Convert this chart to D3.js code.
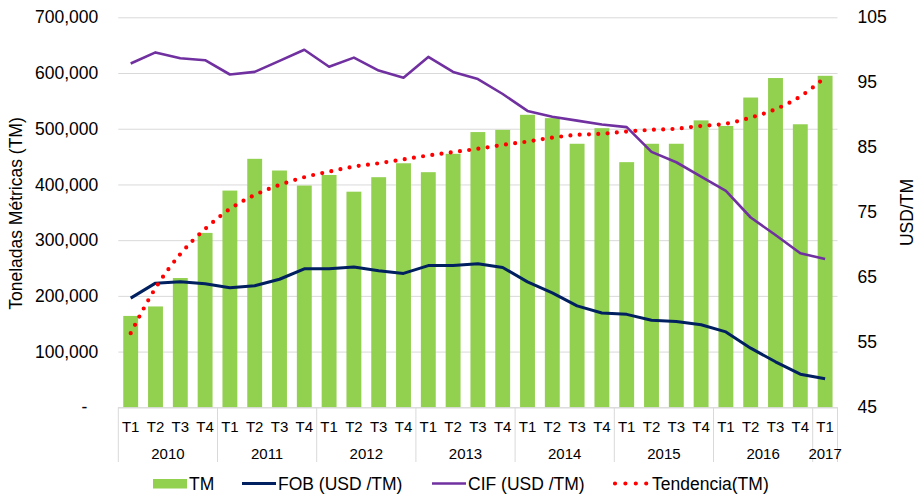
<!DOCTYPE html>
<html>
<head>
<meta charset="utf-8">
<script src="https://cdn.jsdelivr.net/npm/d3@7"></script>
<style>
  body { margin: 0; background: #fff; }
  svg { display: block; font-family: "Liberation Sans", Arial, sans-serif; }
</style>
</head>
<body>
<script>
// categories
const years = ["2010", "2011", "2012", "2013", "2014", "2015", "2016", "2017"];
const quarters = ["T1", "T2", "T3", "T4"];
const categories = years.flatMap(y => (y === "2017" ? ["T1"] : quarters).map(q => y + " " + q));

// series
const tm = [164000, 181000, 232000, 313000, 389000, 446000, 425000, 398000,
            417000, 387000, 413000, 438000, 422000, 455000, 494000, 498000,
            525000, 519000, 473000, 501000, 440000, 473000, 473000, 515000,
            505000, 556000, 591000, 508000, 595000];
const fob = [61.8, 64.1, 64.3, 64.0, 63.4, 63.7, 64.7, 66.3,
             66.3, 66.6, 66.0, 65.6, 66.8, 66.8, 67.1, 66.5,
             64.3, 62.6, 60.6, 59.5, 59.3, 58.4, 58.2, 57.7,
             56.6, 54.1, 52.0, 50.1, 49.4];
const cif = [97.9, 99.6, 98.7, 98.4, 96.2, 96.6, 98.3, 100.0,
             97.4, 98.8, 96.8, 95.7, 98.9, 96.6, 95.5, 93.2,
             90.6, 89.7, 89.1, 88.5, 88.1, 84.3, 82.7, 80.5,
             78.3, 74.2, 71.5, 68.7, 67.8];
const tendencia = [133000, 214000, 275000, 320000, 356000, 381000, 399000, 413000,
                   423000, 432000, 438000, 445000, 452000, 458000, 464000, 471000,
                   477000, 484000, 489000, 491000, 495000, 498000, 500000, 505000,
                   509000, 520000, 535000, 558000, 592000];

// axis ticks
const leftTicks = [0, 100000, 200000, 300000, 400000, 500000, 600000, 700000];
const leftLabels = ["-", "100,000", "200,000", "300,000", "400,000", "500,000", "600,000", "700,000"];
const rightTicks = [45, 55, 65, 75, 85, 95, 105];

const seriesNames = ["TM", "FOB (USD /TM)", "CIF (USD /TM)", "Tendencia(TM)"];
const colors = { tm: "#92d050", fob: "#002060", cif: "#7030a0", trend: "#ff0000" };

const width = 924, height = 498;
const plot = { left: 118.3, right: 837.5, top: 17.3, bottom: 407.3 };

const svg = d3.select("body").append("svg")
    .attr("width", width)
    .attr("height", height);

// scales
const xScale = d3.scaleBand()
    .domain(categories)
    .range([plot.left, plot.right])
    .paddingInner(0.4)
    .paddingOuter(0.2);

const yLeft = d3.scaleLinear().domain([0, 700000]).range([plot.bottom, plot.top]);
const yRight = d3.scaleLinear().domain([45, 105]).range([plot.bottom, plot.top]);

const cx = c => xScale(c) + xScale.bandwidth() / 2;
const slotStart = c => xScale(c) - (xScale.step() - xScale.bandwidth()) / 2;

// left axis + gridlines
const gLeft = svg.append("g")
    .attr("transform", `translate(${plot.left},0)`)
    .call(d3.axisLeft(yLeft)
        .tickValues(leftTicks)
        .tickFormat((d, i) => leftLabels[i])
        .tickSize(-(plot.right - plot.left))
        .tickPadding(20));
gLeft.select(".domain").remove();
gLeft.selectAll(".tick line").attr("stroke", "#d9d9d9").attr("stroke-width", 1);
gLeft.selectAll(".tick text")
    .attr("font-size", "17.5px")
    .attr("fill", "#000")
    .attr("font-family", null)
    .filter(d => d === 0)
    .attr("dx", -11);

// right axis
const gRight = svg.append("g")
    .attr("transform", `translate(${plot.right},0)`)
    .call(d3.axisRight(yRight).tickValues(rightTicks).tickSize(0).tickPadding(20));
gRight.select(".domain").remove();
gRight.selectAll(".tick text")
    .attr("font-size", "17.5px")
    .attr("fill", "#000")
    .attr("font-family", null);

// bars
svg.append("g").selectAll("rect")
    .data(categories)
    .join("rect")
    .attr("x", c => xScale(c))
    .attr("width", xScale.bandwidth())
    .attr("y", (c, i) => yLeft(tm[i]))
    .attr("height", (c, i) => yLeft(0) - yLeft(tm[i]))
    .attr("fill", colors.tm);

// bottom axis (quarters)
const gBottom = svg.append("g")
    .attr("transform", `translate(0,${plot.bottom})`)
    .call(d3.axisBottom(xScale).tickSize(0).tickPadding(14).tickFormat(d => d.split(" ")[1]));
gBottom.select(".domain").attr("stroke", "#d9d9d9").attr("d", `M${plot.left},0.5H${plot.right}`);
gBottom.selectAll(".tick text")
    .attr("font-size", "15px")
    .attr("fill", "#000")
    .attr("font-family", null);

// year dividers and labels
const yearGroups = years.map(y => categories.filter(c => c.startsWith(y)));
const dividers = yearGroups.map(g => slotStart(g[0])).concat([plot.right]);
svg.append("g").selectAll("line")
    .data(dividers)
    .join("line")
    .attr("x1", d => d).attr("x2", d => d)
    .attr("y1", plot.bottom).attr("y2", 462)
    .attr("stroke", "#d9d9d9")
    .attr("stroke-width", 1);

svg.append("g").selectAll("text")
    .data(yearGroups)
    .join("text")
    .attr("x", g => (cx(g[0]) + cx(g[g.length - 1])) / 2)
    .attr("y", 459)
    .attr("text-anchor", "middle")
    .attr("font-size", "15px")
    .text((g, i) => years[i]);

// lines
const lineRight = d3.line()
    .x((d, i) => cx(categories[i]))
    .y(d => yRight(d));

svg.append("path")
    .datum(fob)
    .attr("d", lineRight)
    .attr("fill", "none")
    .attr("stroke", colors.fob)
    .attr("stroke-width", 3)
    .attr("stroke-linejoin", "round");

svg.append("path")
    .datum(cif)
    .attr("d", lineRight)
    .attr("fill", "none")
    .attr("stroke", colors.cif)
    .attr("stroke-width", 2.6)
    .attr("stroke-linejoin", "round");

const lineTrend = d3.line()
    .x((d, i) => cx(categories[i]))
    .y(d => yLeft(d))
    .curve(d3.curveMonotoneX);

svg.append("path")
    .datum(tendencia)
    .attr("d", lineTrend)
    .attr("fill", "none")
    .attr("stroke", colors.trend)
    .attr("stroke-width", 4.2)
    .attr("stroke-linecap", "round")
    .attr("stroke-dasharray", "0 9.3");

// axis titles
svg.append("text")
    .attr("transform", "translate(21.7,213.5) rotate(-90)")
    .attr("text-anchor", "middle")
    .attr("font-size", "17.5px")
    .text("Toneladas Métricas (TM)");

svg.append("text")
    .attr("transform", "translate(913,212.5) rotate(-90)")
    .attr("text-anchor", "middle")
    .attr("font-size", "17.5px")
    .text("USD/TM");

// legend
const legend = svg.append("g").attr("font-size", "17.5px");
const legendX = [153, 242, 432, 613];
const legendY = 483.5;

legend.append("rect")
    .attr("x", legendX[0]).attr("y", 479)
    .attr("width", 34).attr("height", 9.5)
    .attr("fill", colors.tm);

legend.append("line")
    .attr("x1", legendX[1]).attr("x2", legendX[1] + 34)
    .attr("y1", legendY).attr("y2", legendY)
    .attr("stroke", colors.fob).attr("stroke-width", 3);

legend.append("line")
    .attr("x1", legendX[2]).attr("x2", legendX[2] + 34)
    .attr("y1", legendY).attr("y2", legendY)
    .attr("stroke", colors.cif).attr("stroke-width", 2.6);

legend.append("line")
    .attr("x1", legendX[3] + 2).attr("x2", legendX[3] + 34)
    .attr("y1", legendY).attr("y2", legendY)
    .attr("stroke", colors.trend).attr("stroke-width", 4.2)
    .attr("stroke-linecap", "round")
    .attr("stroke-dasharray", "0 10.4");

legend.selectAll("text")
    .data(seriesNames)
    .join("text")
    .attr("x", (d, i) => legendX[i] + [36, 36, 36, 39][i])
    .attr("y", 490)
    .text(d => d);
</script>
</body>
</html>
